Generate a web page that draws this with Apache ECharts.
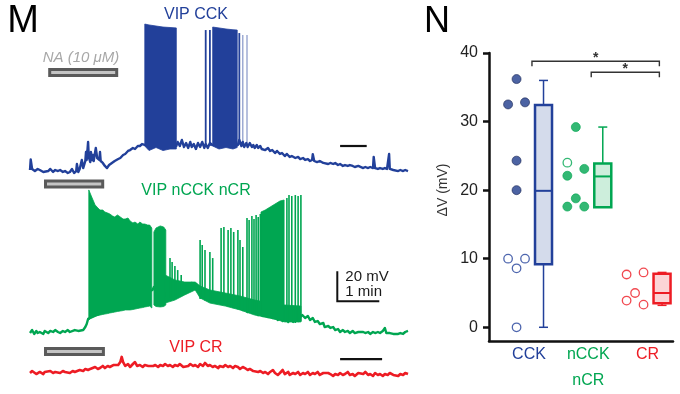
<!DOCTYPE html>
<html><head><meta charset="utf-8">
<script src="https://cdn.jsdelivr.net/npm/echarts@6/dist/echarts.min.js"></script>
<style>html,body{margin:0;padding:0;background:#fff}#c{width:680px;height:394px}</style>
</head><body><div id="c"></div>
<script>
const BLUE = '#22409a', GREEN = '#00a651', RED = '#ed1c24';
const FONT = '"Liberation Sans", Arial, Helvetica, sans-serif';

// ---------- Panel M : time (s), membrane potential (mV) ----------
const blueTrace = [
[0,-70],[1,-63],[3,-69.3],[7,-70.7],[11,-69.3],[14,-70],[19,-71.3],[21,-70],[26,-70.7],[29,-69.3],[33,-71.3],[36,-70],[40,-70.7],[43,-70],[47,-71.3],[50,-70.7],[54,-72],[57,-71.3],[60,-69.3],[63,-72],[66,-70.7],[67,-66],[69,-71.3],[71,-69.3],[74,-63.3],[76,-68.7],[79,-64],[80,-58],[81,-63.3],[83,-51.3],[84,-61.3],[86,-64.7],[87,-58],[89,-63.3],[90,-60],[91,-64],[94,-55.3],[96,-62],[99,-63.3],[100,-58],[101,-64],[104,-65.3],[107,-67.3],[110,-68.7],[113,-66.7],[117,-65.3],[121,-64],[126,-62.7],[129,-62],[133,-60],[136,-59.3],[140,-57.3],[143,-56.7],[147,-55.3],[150,-56],[154,-54],[157,-54],[160,-52.7],[164,-53.3],
[209,-54],[211,-51.3],[214,-54],[217,-50],[220,-54.7],[223,-52],[226,-55.3],[229,-51.3],[231,-54.7],[234,-52.7],[237,-56],[240,-52],[243,-54.7],[246,-51.3],[249,-55.3],[251,-52.7],[254,-55.3],[257,-52],[260,-53.3],
[297,-53.3],[299,-50],[302,-54],[304,-51.3],[306,-54.7],[309,-52],[311,-54.7],[314,-52],[317,-54.7],[319,-53.3],[321,-55.3],[324,-53.3],[326,-55.3],[329,-54],[331,-56],[333,-54.7],[336,-56.7],[340,-55.3],[343,-57.3],[346,-56.7],[350,-58.7],[353,-57.3],[357,-59.3],[360,-58.7],[364,-60.7],[367,-59.3],[371,-61.3],[374,-60.7],[379,-62],[383,-61.3],[386,-62.7],[390,-62],[393,-63.3],[397,-62.7],[400,-64],[403,-63.3],[404,-59.5],[406,-64],[410,-64.7],[414,-64],[419,-65.3],[421,-64.7],[426,-66],[429,-65.3],[433,-66],[436,-65.3],[440,-66.7],[443,-66],[447,-67.3],[450,-66.7],[454,-67.3],[457,-66.7],[461,-67.3],[464,-68],[469,-67.3],[471,-68],[476,-68.7],[479,-68],[483,-68.7],[486,-68],[490,-68.7],[491,-61.3],[493,-68.7],[497,-69.3],[500,-68.7],[504,-69.3],[507,-68.7],[510,-69.3],[513,-59.3],[514,-69.3],[519,-70],[521,-69.3],[526,-70.7],[529,-70],[533,-70.7],[536,-70],[540,-70.7]
];
// spike bursts: [t, top, bottom] envelope points
const blueBursts = [
  [[164,27.3,-54],[170,26.7,-57],[180,26,-55],[190,25.3,-57],[200,25,-56],[209,24.7,-56]],
  [[261,25.3,-54],[270,24.7,-56],[280,24,-55],[290,23.5,-56],[296,23.3,-55]]
];
const blueSpikes = [[251,23.3,-54],[257,23.3,-54],[299,21.3,-53]];
const blueFaintSpikes = [[304,20,-53],[310,20,-54]];

const greenTrace = [
[0,-70.7],[3,-68.7],[6,-71.3],[9,-69.3],[11,-70.7],[14,-70],[19,-71.3],[21,-69.3],[26,-70.7],[29,-69.3],[33,-70],[36,-68.7],[40,-70],[43,-70.7],[47,-69.3],[50,-70],[54,-68.7],[57,-70],[61,-69.3],[64,-68.7],[69,-69.3],[71,-68],[76,-68.7],[79,-66.7],[81,-64.7],[83,-61.3],[84,-60],
[175,-42],[177,-40],
[193,-46],[197,-42],[200,-47.3],[203,-39.3],[206,-44.7],[209,-40.7],[211,-45.3],[214,-40],[217,-43.3],[220,-38.7],[223,-42],[226,-38],[229,-40.7],[231,-37.3],[234,-40],[237,-38],[240,-41.3],[243,-43.3],[247,-46],[250,-44],[254,-47.3],[257,-45.3],[261,-48.7],[264,-46.7],[269,-50],[271,-48],[276,-51.3],[279,-49.3],[283,-52],[286,-50],[290,-53.3],[293,-51.3],[297,-54],[300,-52],[304,-55.3],[307,-53.3],[311,-56.7],[314,-54.7],[319,-57.3],[321,-55.3],[326,-58.7],[329,-56.7],[333,-59.3],[336,-57.3],[340,-60],[343,-58],[347,-60.7],[350,-58.7],[354,-62],[357,-59.3],[361,-62.7],[364,-60],[369,-63.3],[371,-60.7],[376,-63.3],[379,-60.7],[383,-62.7],[386,-60],
[389,-58.7],[393,-60.7],[397,-59.3],[400,-62],[404,-60.7],[407,-63.3],[411,-62.7],[414,-64.7],[419,-64],[421,-66.7],[426,-66],[429,-67.3],[433,-66.7],[436,-68.7],[440,-68],[443,-70],[447,-68.7],[450,-70],[454,-69.3],[457,-70.7],[461,-69.3],[464,-70.7],[469,-70],[471,-71.3],[476,-70],[479,-70.7],[483,-70],[486,-71.3],[490,-70],[493,-70.7],[497,-70],[500,-70.7],[504,-69.3],[507,-67.3],[509,-70.7],[511,-72],[514,-70.7],[519,-71.3],[521,-70],[526,-71.3],[529,-70.7],[533,-71.3],[536,-70],[540,-69.3]
];
const greenBursts = [
  [[84,24.7,-62],[87,21.3,-60.7],[93,14.7,-59.3],[97,12.7,-59],[100,11.3,-58.7],[104,11.3,-58.3],[107,10,-58],[111,9.3,-57.7],[114,8.7,-57.3],[118,7.3,-57],[121,6.7,-56.7],[125,8,-56.3],[129,6.7,-56],[133,5.3,-55.7],[136,5.3,-55.3],[140,6,-55.3],[143,4,-55.3],[147,2.7,-55],[150,3.3,-54.7],[154,2,-54.3],[157,3.3,-54],[161,2,-53.7],[164,2,-53.3],[168,1.3,-53],[171,1.3,-52.7],[174,-0.7,-54]],
  [[177,-3.3,-52],[180,-0.7,-53],[186,0.7,-53.3],[191,0,-53],[194,-2,-52]],
  [[193,-32,-50.7],[207,-35.3,-48.7],[221,-36.7,-45.3],[236,-36.7,-42],[243,-39.3,-47.3],[257,-42,-50.7],[279,-44,-52.7],[300,-46,-55.3],[321,-48.7,-58.7],[343,-50.7,-60.7],[364,-52,-63.3],[387,-52.7,-63.3]],
  [[330,10,-59.3],[336,11.3,-60],[343,13.3,-60.7],[350,15.3,-61.3],[357,17.3,-61.7],[363,18,-62]]
];
const greenSpikes = [
[200,-20.7,-47],[203,-23.3,-47],[207,-26,-47],[211,-28.7,-46],[216,-32,-45],
[243,-8.7,-48],[246,-12,-48],[250,-15.3,-49],[257,-16.7,-50],[261,-20.7,-50],
[273,-0.7,-52],[277,0,-52],[283,-2,-53],[287,-0.7,-53],[291,-3.3,-54],[297,-2,-54],[300,-8.7,-55],[304,-13.3,-55],
[310,6,-57],[313,4.7,-57],[317,7.3,-58],[320,5.3,-58],[323,8,-58],[326,6.7,-59],[329,8.7,-59],
[367,19.3,-63],[370,21.3,-63],[374,20.7,-63],[379,21.3,-64],[383,20.7,-63],[387,21.3,-63]
];

const redTrace = [
[0,-70],[3,-68.7],[9,-70.7],[14,-69.3],[19,-70.7],[21,-69.3],[29,-68.7],[33,-70],[36,-69.3],[43,-70],[47,-68.7],[50,-69.3],[57,-70],[61,-68.7],[64,-69.3],[71,-68],[76,-68.7],[79,-67.3],[83,-68],[86,-67.3],[93,-66],[97,-67.3],[100,-66.7],[104,-65.3],[107,-66.7],[111,-65.3],[114,-66],[119,-64.7],[121,-66],[126,-64.7],[129,-62.7],[131,-59.3],[133,-62.7],[136,-65.3],[140,-64],[143,-66],[147,-64],[150,-62.7],[153,-65.3],[157,-64.7],[161,-66],[164,-64.7],[169,-65.3],[171,-64],[176,-65.3],[179,-64.7],[183,-66],[186,-64.7],[190,-65.3],[193,-64],[197,-65.3],[200,-64.7],[204,-66],[207,-64.7],[211,-65.3],[214,-64],[219,-66],[221,-64.7],[226,-65.3],[229,-64],[233,-65.3],[236,-64.7],[240,-66],[243,-64],[247,-65.3],[250,-63.3],[254,-65.3],[257,-64.7],[261,-66],[264,-65.3],[269,-66.7],[271,-65.3],[276,-66],[279,-64.7],[283,-66],[286,-65.3],[290,-66.7],[293,-65.3],[297,-66],[300,-67.3],[304,-66],[307,-66.7],[311,-68],[314,-67.3],[319,-68.7],[321,-68],[326,-69.3],[329,-68.7],[333,-70],[336,-69.3],[340,-70.7],[343,-69.3],[347,-68],[350,-70],[354,-71.3],[357,-70],[361,-68],[364,-70.7],[369,-69.3],[371,-71.3],[376,-70],[379,-70.7],[383,-69.3],[386,-71.3],[390,-70],[393,-70.7],[397,-69.3],[400,-71.3],[404,-70],[407,-70.7],[411,-69.3],[414,-71.3],[419,-70],[421,-71.3],[426,-70],[429,-70.7],[433,-72],[436,-70.7],[440,-71.3],[443,-70],[447,-71.3],[450,-70.7],[454,-69.3],[457,-71.3],[461,-70.7],[464,-72],[469,-70],[471,-71.3],[476,-70.7],[479,-69.3],[483,-71.3],[486,-70.7],[490,-72],[493,-70],[497,-71.3],[500,-70.7],[504,-72],[507,-70.7],[511,-71.3],[514,-70],[519,-71.3],[521,-70.7],[526,-72],[529,-70.7],[533,-71.3],[536,-70],[540,-70.7]
];

// NA application bars [tStart, tEnd, level mV] per trace axis
const naBlue = [[26,126,-5]];
const naGreen = [[20,106,28.7]];
const naRed = [[20,107,-55.7]];
// black time bars [tStart, tEnd, level]
const timeBlue = [[443,481,-54]];
const timeRed = [[443,503,-60.7]];
// scale bar on green axis: [t, mV start, mV length, s length]
const scaleBar = [[439,-49.5,20,60]];
const scaleLabels = ['20 mV', '1 min'];

// ---------- Panel N ----------
const groups = ['CCK', 'nCCK\nnCR', 'CR'];
const groupColors = [BLUE, GREEN, RED];
const groupFills = ['#d4dbeb', '#cdeedc', '#fcd4d6'];
const cckFilled = [36.2, 32.5, 32.8, 24.3, 20.0];
const cckFilledSlot = [0, -1, 1, 0, 0];
const cckOpen = [10.0, 10.0, 8.6, 0.0];
const cckOpenSlot = [-1, 1, 0, 0];
const ncckFilled = [29.2, 22.1, 23.1, 18.8, 17.6, 17.6];
const ncckFilledSlot = [0, -1, 1, 0, -1, 1];
const ncckOpen = [24.0];
const ncckOpenSlot = [-1];
const crOpen = [7.7, 8.0, 5.0, 3.9, 3.3];
const crOpenSlot = [-1, 1, 0, -1, 1];
// [min, Q1, median, Q3, max]
const boxStats = [[0, 9.2, 19.9, 32.4, 36], [17.5, 17.5, 22, 23.9, 29.2], [3.2, 3.5, 5.0, 7.8, 8.0]];
const yTicks = [0, 10, 20, 30, 40];
// significance: [groupA, groupB, height]
const sigPairs = [[0, 2, 38.8], [1, 2, 37.2]];

// layout constants (panel N, in axis units)
const BOX_OFF = 0.245, DOT_CENTER = -0.21, DOT_STEP = 0.143;

const chart = echarts.init(document.getElementById('c'), null, {renderer: 'canvas'});

function hiddenAxis(grid, min, max) { return {type: 'value', gridIndex: grid, min, max, show: false}; }

function traceSeries(idx, data, color, w) {
  return {type: 'line', xAxisIndex: idx, yAxisIndex: idx, data, showSymbol: false, symbol: 'none',
    lineStyle: {color, width: w, join: 'round'}, clip: false, silent: true, z: 2};
}
function burstSeries(idx, bursts, color) {
  return {type: 'custom', xAxisIndex: idx, yAxisIndex: idx, silent: true, z: 3, clip: false,
    data: bursts.map(b => [b[0][0], b[0][1]]), encode: {x: 0, y: 1},
    renderItem: (params, api) => {
      const pts = bursts[params.dataIndex];
      const up = pts.map(p => api.coord([p[0], p[1]]));
      const lo = pts.slice().reverse().map(p => api.coord([p[0], p[2]]));
      return {type: 'polygon', shape: {points: up.concat(lo)}, style: {fill: color, stroke: color, lineWidth: 0.8}};
    }};
}
function spikeSeries(idx, spikes, color, width, opacity) {
  return {type: 'custom', xAxisIndex: idx, yAxisIndex: idx, silent: true, z: 3, clip: false,
    data: spikes, encode: {x: 0, y: [1, 2]},
    renderItem: (params, api) => {
      const a = api.coord([api.value(0), api.value(2)]);
      const b = api.coord([api.value(0), api.value(1)]);
      return {type: 'line', shape: {x1: a[0], y1: a[1], x2: b[0], y2: b[1]},
        style: {stroke: color, lineWidth: width, opacity}};
    }};
}
function naSeries(idx, bars) {
  return {type: 'custom', xAxisIndex: idx, yAxisIndex: idx, silent: true, z: 5, clip: false,
    data: bars, encode: {x: [0, 1], y: 2},
    renderItem: (params, api) => {
      const a = api.coord([api.value(0), api.value(2)]);
      const b = api.coord([api.value(1), api.value(2)]);
      return {type: 'group', children: [
        {type: 'rect', shape: {x: a[0], y: a[1] - 4.5, width: b[0] - a[0], height: 9}, style: {fill: '#5a5a5a'}},
        {type: 'rect', shape: {x: a[0] + 3, y: a[1] - 1.5, width: b[0] - a[0] - 6, height: 3}, style: {fill: '#c4c4c4'}}
      ]};
    }};
}
function timeBarSeries(idx, bars) {
  return {type: 'custom', xAxisIndex: idx, yAxisIndex: idx, silent: true, z: 5, clip: false,
    data: bars, encode: {x: [0, 1], y: 2},
    renderItem: (params, api) => {
      const a = api.coord([api.value(0), api.value(2)]);
      const b = api.coord([api.value(1), api.value(2)]);
      return {type: 'line', shape: {x1: a[0], y1: a[1], x2: b[0], y2: b[1]}, style: {stroke: '#111', lineWidth: 2.2}};
    }};
}
const scaleSeries = {type: 'custom', xAxisIndex: 1, yAxisIndex: 1, silent: true, z: 5, clip: false,
  data: scaleBar, encode: {x: 0, y: 1},
  renderItem: (params, api) => {
    const t = api.value(0), v = api.value(1), dv = api.value(2), dt = api.value(3);
    const p0 = api.coord([t, v]), p1 = api.coord([t, v + dv]), p2 = api.coord([t + dt, v]);
    const ts = {fontSize: 15, fontFamily: FONT, fill: '#1a1a1a', align: 'left', verticalAlign: 'middle'};
    return {type: 'group', children: [
      {type: 'polyline', shape: {points: [p1, p0, p2]}, style: {stroke: '#111', lineWidth: 2, fill: null}},
      {type: 'text', style: Object.assign({text: scaleLabels[0], x: p0[0] + 8, y: p1[1] + 6}, ts)},
      {type: 'text', style: Object.assign({text: scaleLabels[1], x: p0[0] + 8, y: p1[1] + 21}, ts)}
    ]};
  }};

// panel N series
function dots(values, slots, g, filled) {
  const c = groupColors[g];
  return {type: 'scatter', xAxisIndex: 3, yAxisIndex: 3, silent: true, z: 4,
    data: values.map((v, i) => [g + 1 + DOT_CENTER + slots[i] * DOT_STEP, v]),
    symbol: 'circle', symbolSize: filled ? 9 : 8.5,
    itemStyle: filled ? {color: g === 0 ? '#1f3c8c' : c, borderColor: g === 0 ? '#1a2755' : c, borderWidth: 0.8}
                      : {color: '#fff', borderColor: c, borderWidth: 1.3}};
}
const boxSeries = {type: 'custom', xAxisIndex: 3, yAxisIndex: 3, silent: true, z: 3,
  data: boxStats.map((s, i) => [i + 1 + BOX_OFF].concat(s)), encode: {x: 0, y: [1, 5]},
  renderItem: (params, api) => {
    const g = params.dataIndex, x = api.value(0);
    const c = groupColors[g], f = groupFills[g];
    const pmin = api.coord([x, api.value(1)]), pq1 = api.coord([x, api.value(2)]);
    const pmd = api.coord([x, api.value(3)]), pq3 = api.coord([x, api.value(4)]);
    const pmax = api.coord([x, api.value(5)]);
    const hw = 8.5, cw = 4.5, ch = [];
    if (pmax[1] < pq3[1]) {
      ch.push({type: 'line', shape: {x1: pmax[0], y1: pmax[1], x2: pq3[0], y2: pq3[1]}, style: {stroke: c, lineWidth: 1.5}});
      ch.push({type: 'line', shape: {x1: pmax[0] - cw, y1: pmax[1], x2: pmax[0] + cw, y2: pmax[1]}, style: {stroke: c, lineWidth: 1.5}});
    }
    if (pmin[1] > pq1[1]) {
      ch.push({type: 'line', shape: {x1: pmin[0], y1: pmin[1], x2: pq1[0], y2: pq1[1]}, style: {stroke: c, lineWidth: 1.5}});
      ch.push({type: 'line', shape: {x1: pmin[0] - cw, y1: pmin[1], x2: pmin[0] + cw, y2: pmin[1]}, style: {stroke: c, lineWidth: 1.5}});
    }
    ch.push({type: 'rect', shape: {x: pq3[0] - hw, y: pq3[1], width: 2 * hw, height: pq1[1] - pq3[1]}, style: {fill: f, stroke: c, lineWidth: 2.5}});
    ch.push({type: 'line', shape: {x1: pmd[0] - hw, y1: pmd[1], x2: pmd[0] + hw, y2: pmd[1]}, style: {stroke: c, lineWidth: 2}});
    return {type: 'group', children: ch};
  }};
const sigSeries = {type: 'custom', xAxisIndex: 3, yAxisIndex: 3, silent: true, z: 5,
  data: sigPairs.map(s => [s[0] + 1 + 0.05, s[1] + 1 + 0.2, s[2]]), encode: {x: [0, 1], y: 2},
  renderItem: (params, api) => {
    const a = api.coord([api.value(0), api.value(2)]), b = api.coord([api.value(1), api.value(2)]);
    return {type: 'group', children: [
      {type: 'polyline', shape: {points: [[a[0], a[1] + 5], a, b, [b[0], b[1] + 5]]}, style: {stroke: '#333', lineWidth: 1.4, fill: null}},
      {type: 'text', style: {text: '*', x: (a[0] + b[0]) / 2, y: a[1] - 3, align: 'center', verticalAlign: 'middle', fontSize: 14, fontWeight: 'bold', fontFamily: FONT, fill: '#333'}}
    ]};
  }};

const txt = (text, x, y, size, color, extra) => ({type: 'text', x, y, silent: true,
  style: Object.assign({text, fill: color, fontSize: size, fontFamily: FONT, align: 'center', verticalAlign: 'middle',
    textAlign: 'center', textVerticalAlign: 'middle'}, extra || {})});

chart.setOption({
  animation: false,
  textStyle: {fontFamily: FONT},
  grid: [
    {left: 30, width: 378, top: 20, height: 159},
    {left: 30, width: 378, top: 182, height: 159},
    {left: 30, width: 378, top: 328, height: 54},
    {left: 489, width: 184, top: 53, height: 289}
  ],
  xAxis: [
    hiddenAxis(0, 0, 540), hiddenAxis(1, 0, 540), hiddenAxis(2, 0, 540),
    {type: 'value', gridIndex: 3, min: 0.325, max: 3.43, splitLine: {show: false},
      axisLine: {onZero: false, lineStyle: {color: '#111', width: 2.5}}, axisTick: {show: false},
      axisLabel: {customValues: [1, 2, 3], margin: 1, fontSize: 16, lineHeight: 26, fontFamily: FONT,
        formatter: v => groups[Math.round(v) - 1],
        color: v => groupColors[Math.round(Number(v)) - 1]}}
  ],
  yAxis: [
    hiddenAxis(0, -76, 30), hiddenAxis(1, -76, 30), hiddenAxis(2, -76, -40),
    {type: 'value', gridIndex: 3, min: -2, max: 40, splitLine: {show: false},
      name: 'ΔV (mV)', nameLocation: 'middle', nameGap: 39, nameRotate: 90,
      nameTextStyle: {fontSize: 14, color: '#333', fontFamily: FONT, padding: [0, 0, 0, 14]},
      axisLine: {onZero: false, lineStyle: {color: '#111', width: 2.5}},
      axisTick: {customValues: yTicks, length: 6, lineStyle: {color: '#111', width: 2.5}},
      axisLabel: {customValues: yTicks, margin: 11, fontSize: 16, color: '#222', fontFamily: FONT}}
  ],
  graphic: [
    txt('M', 23, 22, 38, '#000'),
    txt('N', 437, 22, 36, '#000'),
    txt('VIP CCK', 196, 15, 16, BLUE),
    txt('VIP nCCK nCR', 196, 191, 16, GREEN),
    txt('VIP CR', 196, 348, 16, RED),
    txt('NA (10 μM)', 81, 58, 15, '#a8a8a8', {fontStyle: 'italic'})
  ],
  series: [
    traceSeries(0, blueTrace, BLUE, 2.4), burstSeries(0, blueBursts, BLUE),
    spikeSeries(0, blueSpikes, BLUE, 1.8, 1), spikeSeries(0, blueFaintSpikes, BLUE, 1.2, 0.55),
    traceSeries(1, greenTrace, GREEN, 2.4), burstSeries(1, greenBursts, GREEN),
    spikeSeries(1, greenSpikes, GREEN, 1.6, 1),
    traceSeries(2, redTrace, RED, 2.6),
    naSeries(0, naBlue), naSeries(1, naGreen), naSeries(2, naRed),
    timeBarSeries(0, timeBlue), timeBarSeries(2, timeRed), scaleSeries,
    boxSeries, sigSeries,
    dots(cckFilled, cckFilledSlot, 0, true), dots(cckOpen, cckOpenSlot, 0, false),
    dots(ncckFilled, ncckFilledSlot, 1, true), dots(ncckOpen, ncckOpenSlot, 1, false),
    dots(crOpen, crOpenSlot, 2, false)
  ]
});
</script></body></html>
